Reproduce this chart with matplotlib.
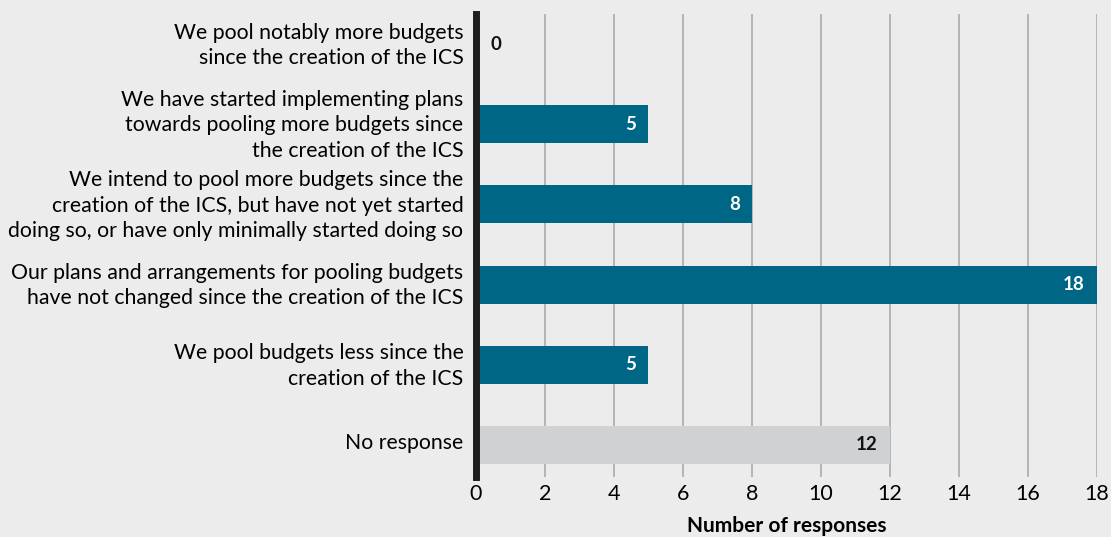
import matplotlib.pyplot as plt
from matplotlib.transforms import ScaledTranslation

plt.rcParams['font.family'] = ['Lato', 'DejaVu Sans']

# survey answers, top to bottom
categories = [
    "We pool notably more budgets\nsince the creation of the ICS",
    "We have started implementing plans\ntowards pooling more budgets since\nthe creation of the ICS",
    "We intend to pool more budgets since the\ncreation of the ICS, but have not yet started\ndoing so, or have only minimally started doing so",
    "Our plans and arrangements for pooling budgets\nhave not changed since the creation of the ICS",
    "We pool budgets less since the\ncreation of the ICS",
    "No response",
]
responses = [0, 5, 8, 18, 5, 12]
bar_colors = ["#006685", "#006685", "#006685", "#006685", "#006685", "#d0d1d3"]
label_colors = ["#111111", "white", "white", "white", "white", "#111111"]
xticks = list(range(0, 20, 2))

bg = "#ececec"
fig = plt.figure(figsize=(11.11, 5.37), dpi=100, facecolor=bg)
ax = fig.add_axes([0.4284, 0.1117, 0.559, 0.8623], facecolor=bg)

ypos = list(range(len(categories)))
ax.barh(ypos, responses, height=0.475, color=bar_colors, zorder=2)

for y, v, c in zip(ypos, responses, label_colors):
    if v == 0:
        ax.text(0.43, y, str(v), ha="left", va="center", color=c,
                fontsize=13.5, fontweight="bold", zorder=3)
    else:
        ax.text(v - 0.35, y, str(v), ha="right", va="center", color=c,
                fontsize=13.5, fontweight="bold", zorder=3)

ax.set_xlim(0, 18)
ax.set_ylim(5.4, -0.375)
ax.set_xticks(xticks)
ax.set_yticks(ypos)
ax.set_yticklabels(categories, fontsize=15.3, linespacing=1.33)
ax.tick_params(axis="y", length=0, pad=9)
ax.tick_params(axis="x", length=0, labelsize=15.5, pad=5)

# nudge category labels up a little
nudge = ScaledTranslation(0, 0.035, fig.dpi_scale_trans)
for lbl in ax.get_yticklabels():
    lbl.set_transform(lbl.get_transform() + nudge)

ax.grid(axis="x", color="#aaaaaa", linewidth=1.2, zorder=0)
for s in ["top", "right", "bottom"]:
    ax.spines[s].set_visible(False)
ax.spines["left"].set_linewidth(5)
ax.spines["left"].set_color("#1e1e1e")
ax.spines["left"].set_zorder(4)

ax.set_xlabel("Number of responses", fontsize=15, fontweight="bold", labelpad=9)

fig.savefig("out.png", dpi=100, facecolor=bg)
